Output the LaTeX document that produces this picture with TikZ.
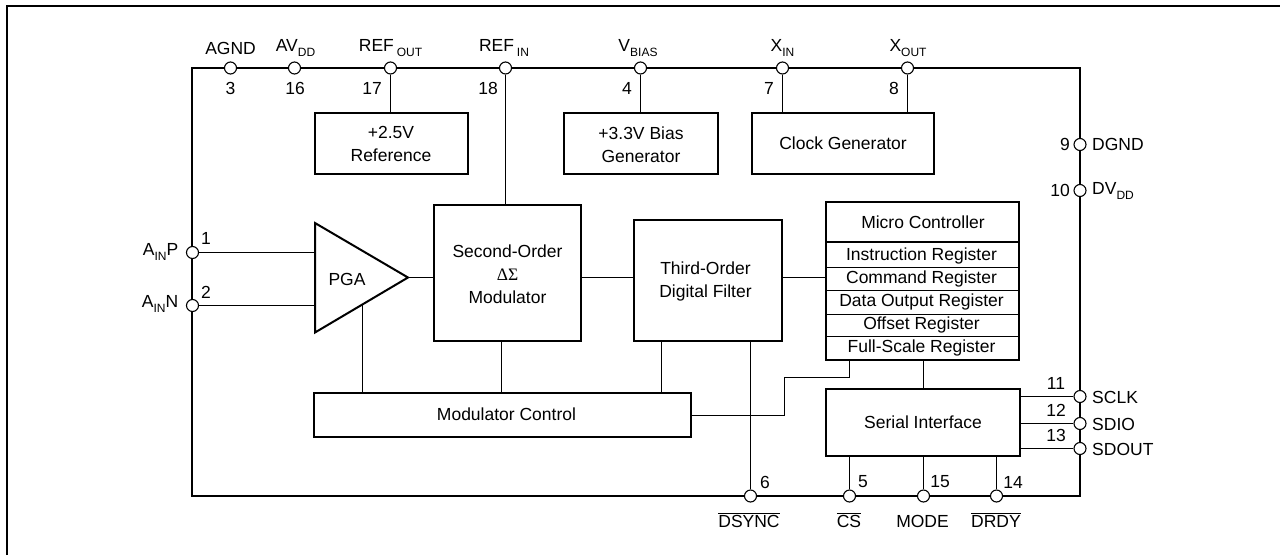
\documentclass[tikz,border=0pt]{standalone}
\usepackage{fontspec}
\setmainfont{Liberation Sans}
\newfontfamily\symbfont{Liberation Serif}
\usetikzlibrary{positioning}
\newcommand{\lowtext}[1]{\raisebox{-0.45ex}{\fontsize{12}{12}\selectfont #1}}
\newcommand{\barred}[1]{$\overline{\mbox{#1}}$}
\tikzset{
  blockbox/.style={draw,line width=2pt,inner sep=0pt,align=center,font=\fontsize{17.5}{23}\selectfont},
  boxtext/.style={inner sep=0pt,align=center,font=\fontsize{17.5}{23}\selectfont},
  regtext/.style={inner sep=0pt,font=\fontsize{17.5}{20}\selectfont},
  pinmark/.style={circle,draw,fill=white,line width=1.1pt,minimum size=12pt,inner sep=0pt},
  pintext/.style={inner sep=0pt,font=\fontsize{17.5}{20}\selectfont},
  wire/.style={line width=1.3pt},
  heavy/.style={line width=2pt}
}

\begin{document}
\begin{tikzpicture}[x=1pt,y=-1pt]
  \useasboundingbox (0,0) rectangle (1280,555);
  \draw[line width=2.4pt] (7,555) -- (7,6) -- (1280,6);

  % chip outline
  \node[draw,line width=2pt,minimum width=888pt,minimum height=428pt,inner sep=0pt] (chip) at (636,282) {};

  % blocks
  \node[blockbox,minimum width=153pt,minimum height=61pt] (refgen) at (391.5,143.5) {};
  \node[blockbox,minimum width=154pt,minimum height=61pt] (biasgen) at (641,143.5) {};
  \node[blockbox,minimum width=182pt,minimum height=61pt] (clockgen) at (843,143.5) {Clock Generator};
  \node[blockbox,minimum width=147pt,minimum height=136pt] (modulator) at (507.5,273) {};
  \node[blockbox,minimum width=148pt,minimum height=121pt] (filter) at (708,280.5) {};
  \node[blockbox,minimum width=193pt,minimum height=158pt] (micro) at (922.5,281) {};
  \node[blockbox,minimum width=194pt,minimum height=67pt] (serial) at (923,422.5) {Serial Interface};
  \node[blockbox,minimum width=377pt,minimum height=44pt] (modctl) at (502.5,415) {};

  % block texts that sit off centre
  \node[boxtext] (reftext) at (391,144) {+2.5V\\Reference};
  \node[boxtext] (biastext) at (641,144.5) {+3.3V Bias\\Generator};
  \node[boxtext] (modtext) at (507.5,274) {Second-Order\\{\symbfont\symbol{"0394}\symbol{"03A3}}\\Modulator};
  \node[boxtext] (filttext) at (705.5,281.5) {Third-Order\\Digital Filter};
  \node[boxtext] (ctltext) at (506.5,414.5) {Modulator Control};

  % micro controller rows
  \node[regtext] (mctitle) at (923,222.5) {Micro Controller};
  \node[regtext] (instr) at (921.5,256) {Instruction Register};
  \node[regtext] (command) at (921.5,279) {Command Register};
  \node[regtext] (dataout) at (921.5,302) {Data Output Register};
  \node[regtext] (offset) at (921.5,325) {Offset Register};
  \node[regtext] (fullscale) at (921.5,347.5) {Full-Scale Register};
  \draw[heavy] (micro.west |- 0,242) -- (micro.east |- 0,242);
  \foreach \ypos in {267.5,290.5,314.5,336.5}
    \draw[wire] (micro.west |- 0,\ypos) -- (micro.east |- 0,\ypos);

  % amplifier
  \coordinate (pgatop) at (315,223);
  \coordinate (pgabot) at (315,332.5);
  \coordinate (pgatip) at (408,277.5);
  \draw[heavy,line join=miter] (pgatop) -- (pgatip) -- (pgabot) -- cycle;
  \node[pintext] (pga) at (347,279) {PGA};

  % pins
  \foreach \pname/\xpos in {agnd/230.5,avdd/294.5,refout/390.5,refin/505.5,vbias/640.5,xin/782.5,xout/907.5}
    \node[pinmark] (\pname) at (\xpos,68) {};
  \foreach \pname/\xpos in {dsync/750.5,cs/849.5,mode/923.5,drdy/996.5}
    \node[pinmark] (\pname) at (\xpos,496) {};
  \foreach \pname/\ypos in {ainp/252.5,ainn/305.5}
    \node[pinmark] (\pname) at (192.5,\ypos) {};
  \foreach \pname/\ypos in {dgnd/144.5,dvdd/190.5,sclk/396.5,sdio/423.5,sdout/448.5}
    \node[pinmark] (\pname) at (1080,\ypos) {};

  % connectors
  \draw[wire] (refout) -- (refout |- refgen.north);
  \draw[wire] (refin) -- (refin |- modulator.north);
  \draw[wire] (vbias) -- (vbias |- biasgen.north);
  \draw[wire] (xin) -- (xin |- clockgen.north);
  \draw[wire] (xout) -- (xout |- clockgen.north);
  \draw[wire] (ainp) -- (pgatop |- ainp);
  \draw[wire] (ainn) -- (pgatop |- ainn);
  \draw[wire] (pgatip) -- (pgatip -| modulator.west);
  \draw[wire] (pgatip -| modulator.east) -- (pgatip -| filter.west);
  \draw[wire] (pgatip -| filter.east) -- (pgatip -| micro.west);
  \coordinate (pgaside) at (362.5,305);
  \draw[wire] (pgaside) -- (pgaside |- modctl.north);
  \draw[wire] (501.5,0 |- modctl.north) -- (501.5,0 |- modulator.south);
  \draw[wire] (661.5,0 |- modctl.north) -- (661.5,0 |- filter.south);
  \draw[wire] (dsync) -- (dsync |- filter.south);
  \draw[wire] (modctl.east |- 0,415.5) -- (784.5,415.5) -- (784.5,377.5) -- (849.5,377.5) -- (849.5,0 |- micro.south);
  \draw[wire] (mode |- micro.south) -- (mode |- serial.north);
  \draw[wire] (sclk) -- (sclk -| serial.east);
  \draw[wire] (sdio) -- (sdio -| serial.east);
  \draw[wire] (sdout) -- (sdout -| serial.east);
  \draw[wire] (cs) -- (cs |- serial.south);
  \draw[wire] (mode) -- (mode |- serial.south);
  \draw[wire] (drdy) -- (drdy |- serial.south);

  % top labels and numbers
  \foreach \tname/\xpos/\ltext in {tagnd/230.6/AGND,tavdd/295.5/AV\lowtext{DD},trefout/390.5/REF\,\lowtext{OUT},trefin/504/REF\,\lowtext{IN},tvbias/638/V\lowtext{BIAS},txin/782.5/X\lowtext{IN},txout/908/X\lowtext{OUT}}
    \node[pintext] (\tname) at (\xpos,48) {\ltext};
  \foreach \nname/\xpos/\ltext in {n3/230.6/3,n16/295/16,n17/372/17,n18/488/18,n4/627/4,n7/769/7,n8/894/8}
    \node[pintext] (\nname) at (\xpos,88) {\ltext};

  % left labels
  \node[pintext,anchor=east] (tainp) at (178.5,252) {A\lowtext{IN}P};
  \node[pintext,anchor=east] (tainn) at (178.5,304) {A\lowtext{IN}N};
  \node[pintext] (n1) at (206,238) {1};
  \node[pintext] (n2) at (206,292) {2};

  % right labels
  \foreach \tname/\ypos/\ltext in {tdgnd/144.5/DGND,tdvdd/191/DV\lowtext{DD},tsclk/397/SCLK,tsdio/424/SDIO,tsdout/449/SDOUT}
    \node[pintext,anchor=west] (\tname) at (1092,\ypos) {\ltext};
  \node[pintext,anchor=east] (n9) at (1070,144.5) {9};
  \node[pintext,anchor=east] (n10) at (1070,190.5) {10};
  \foreach \nname/\ypos/\ltext in {n11/383/11,n12/410/12,n13/435/13}
    \node[pintext] (\nname) at (1056,\ypos) {\ltext};

  % bottom labels and numbers
  \foreach \tname/\xpos/\ltext in {tdsync/749/\barred{DSYNC},tcs/849/\barred{CS},tmode/922.5/MODE,tdrdy/996/\barred{DRDY}}
    \node[pintext,anchor=base] (\tname) at (\xpos,527) {\ltext};
  \foreach \nname/\xpos/\ltext in {n6/765/6,n5/863/5,n15/940/15,n14/1013/14}
    \node[pintext] (\nname) at (\xpos,482) {\ltext};
\end{tikzpicture}
\end{document}
